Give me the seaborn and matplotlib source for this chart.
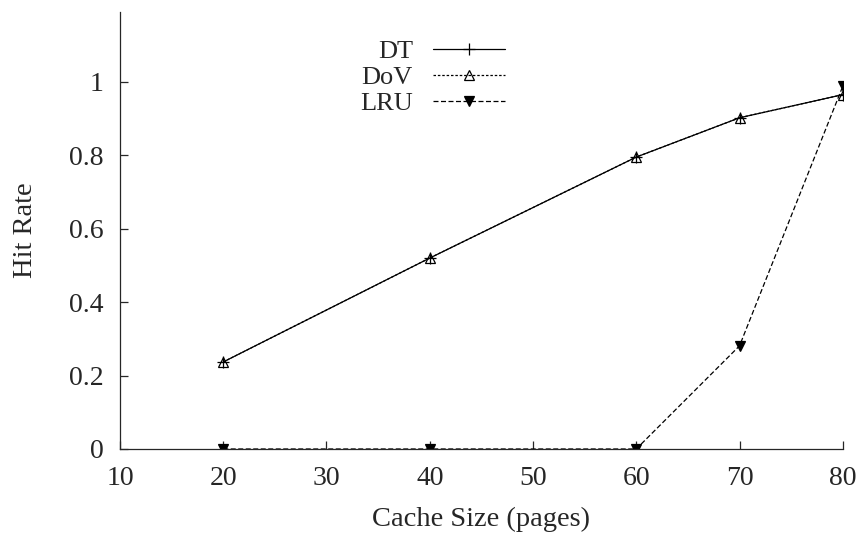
import matplotlib
matplotlib.use("Agg")
import matplotlib.pyplot as plt
import seaborn as sns
import pandas as pd

cache_sizes = [20, 40, 60, 70, 80]
dt_hit = [0.237, 0.520, 0.795, 0.902, 0.965]
dov_hit = [0.237, 0.520, 0.795, 0.902, 0.965]
lru_hit = [0.0, 0.0, 0.0, 0.281, 0.988]

x_ticks = [10, 20, 30, 40, 50, 60, 70, 80]
y_ticks = [0, 0.2, 0.4, 0.6, 0.8, 1]
y_tick_labels = ["0", "0.2", "0.4", "0.6", "0.8", "1"]

sns.set_style("ticks")
plt.rcParams["font.family"] = ["Liberation Serif", "DejaVu Serif"]

fig = plt.figure(figsize=(8.6, 5.34), dpi=100)
ax = fig.add_axes([0.1395, 0.1592, 0.8405, 0.8183])

series = [
    ("DT", dt_hit, dict(linestyle="-", marker="+", markersize=9, mfc="black")),
    ("DoV", dov_hit, dict(linestyle=(0, (2.0, 1.5)), marker="^", markersize=6.5,
                          mfc="none")),
    ("LRU", lru_hit, dict(linestyle=(0, (4.0, 2.0)), marker="v", markersize=6.5,
                          mfc="black")),
]

for name, vals, style in series:
    df = pd.DataFrame({"size": cache_sizes, "hit": vals})
    sns.lineplot(data=df, x="size", y="hit", ax=ax, color="black",
                 linewidth=0.9, mec="black", mew=0.9, label=name, **style)

ax.set_xlim(10, 80)
ax.set_ylim(0, 1.19)
ax.set_xticks(x_ticks)
ax.set_yticks(y_ticks)
ax.set_yticklabels(y_tick_labels)
ax.tick_params(direction="in", length=6, width=0.9, labelsize=20)
ax.tick_params(axis="y", pad=12)
ax.tick_params(axis="x", pad=12)
for side in ("top", "right"):
    ax.spines[side].set_visible(False)
for side in ("left", "bottom"):
    ax.spines[side].set_linewidth(0.9)

ax.set_xlabel("Cache Size (pages)", fontsize=20.5, labelpad=12)
ax.set_ylabel("Hit Rate", fontsize=20.5, labelpad=22)

ax.legend(loc="upper left", bbox_to_anchor=(0.303, 0.985), frameon=False,
          markerfirst=False, fontsize=19, handlelength=2.75,
          labelspacing=0.1, handletextpad=0.75, borderpad=0.3)
for t in ax.get_legend().get_texts():
    t.set_ha("right")
    t.set_position((0, 0))

fig.savefig("out.png", dpi=100)
